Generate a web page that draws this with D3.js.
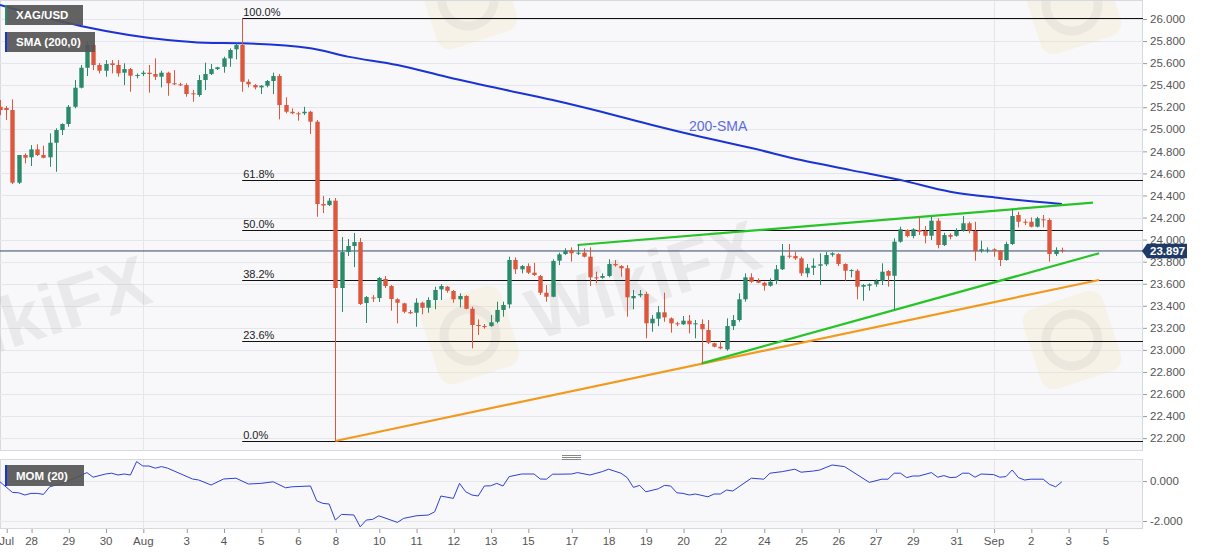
<!DOCTYPE html>
<html><head><meta charset="utf-8">
<script src="https://cdn.jsdelivr.net/npm/d3@7"></script>
<style>
body{margin:0;background:#fff;}
svg{display:block;font-family:"Liberation Sans",Arial,sans-serif;}
</style></head>
<body><svg id="c" width="1207" height="555"></svg>
<script>
// ---------- DATA ----------
const openP=[25.204,25.193,25.175,24.516,24.767,24.746,24.818,24.767,24.746,24.878,
24.993,25.048,25.204,25.377,25.558,25.764,25.583,25.531,25.598,25.583,
25.513,25.546,25.483,25.501,25.513,25.501,25.477,25.513,25.417,25.408,
25.401,25.326,25.311,25.447,25.501,25.546,25.567,25.643,25.725,25.764,
25.431,25.401,25.380,25.395,25.438,25.483,25.220,25.159,25.145,25.145,
25.159,25.069,24.323,24.313,24.353,23.561,23.887,23.942,23.978,23.425,
23.475,23.470,23.643,23.579,23.459,23.422,23.343,23.337,23.428,23.382,
23.452,23.549,23.573,23.534,23.459,23.489,23.373,23.226,23.216,23.216,
23.255,23.362,23.413,23.815,23.731,23.760,23.700,23.670,23.518,23.482,
23.809,23.869,23.906,23.876,23.881,23.845,23.658,23.654,23.670,23.779,
23.760,23.740,23.468,23.495,23.507,23.241,23.283,23.341,23.286,23.241,
23.232,23.265,23.232,23.235,23.180,23.060,23.029,23.005,23.216,23.271,
23.459,23.658,23.627,23.609,23.582,23.627,23.731,23.854,23.851,23.830,
23.694,23.745,23.763,23.776,23.863,23.869,23.779,23.715,23.718,23.573,
23.582,23.595,23.627,23.715,23.672,23.981,24.087,24.032,24.087,24.078,
24.035,24.171,23.951,24.041,24.035,24.081,24.148,24.078,23.896,23.906,
23.912,23.899,23.815,23.960,24.223,24.162,24.162,24.117,24.184,24.178,
23.869,23.906];
const highP=[25.265,25.211,25.271,24.767,24.782,24.857,24.864,24.851,24.963,25.009,
25.054,25.220,25.447,25.583,25.794,25.779,25.601,25.628,25.628,25.628,
25.598,25.555,25.507,25.531,25.583,25.643,25.531,25.522,25.537,25.422,
25.417,25.356,25.492,25.604,25.592,25.567,25.658,25.734,25.779,26.006,
25.453,25.410,25.401,25.447,25.513,25.501,25.290,25.190,25.159,25.204,
25.168,25.084,24.395,24.377,24.377,24.023,24.005,24.060,24.014,23.488,
23.497,23.661,23.670,23.588,23.468,23.428,23.362,23.468,23.437,23.477,
23.573,23.597,23.579,23.543,23.513,23.495,23.391,23.277,23.235,23.316,
23.437,23.437,23.845,23.839,23.769,23.785,23.790,23.679,23.588,23.821,
23.881,23.921,23.930,23.960,23.921,23.930,23.709,23.694,23.821,23.815,
23.769,23.769,23.543,23.543,23.527,23.316,23.398,23.518,23.295,23.255,
23.307,23.316,23.271,23.277,23.271,23.065,23.083,23.286,23.316,23.513,
23.694,23.694,23.649,23.618,23.649,23.769,23.960,23.960,23.890,23.845,
23.779,23.830,23.876,23.890,23.885,23.876,23.785,23.731,23.731,23.597,
23.604,23.640,23.785,23.724,24.012,24.117,24.093,24.102,24.214,24.123,
24.207,24.193,24.062,24.057,24.102,24.214,24.162,24.162,23.990,23.930,
23.921,23.906,23.981,24.274,24.253,24.184,24.202,24.207,24.223,24.193,
23.930,23.927];
const lowP=[25.129,25.084,24.504,24.504,24.691,24.667,24.758,24.737,24.660,24.615,
24.948,25.023,25.190,25.371,25.483,25.537,25.507,25.477,25.507,25.477,
25.401,25.341,25.462,25.483,25.332,25.447,25.380,25.304,25.401,25.392,
25.295,25.250,25.295,25.356,25.492,25.537,25.513,25.567,25.634,25.341,
25.380,25.362,25.320,25.380,25.320,25.090,25.145,25.138,25.078,25.129,
24.957,24.207,24.241,24.304,22.174,23.343,23.851,23.751,23.407,23.244,
23.434,23.434,23.561,23.355,23.241,23.332,23.325,23.210,23.323,23.337,
23.368,23.452,23.518,23.428,23.386,23.368,23.014,23.135,23.192,23.210,
23.241,23.301,23.377,23.688,23.694,23.688,23.670,23.498,23.437,23.477,
23.769,23.860,23.800,23.860,23.839,23.579,23.604,23.645,23.658,23.754,
23.663,23.301,23.368,23.477,23.105,23.165,23.216,23.255,23.156,23.216,
23.226,23.150,23.105,22.878,23.053,23.023,23.005,22.992,23.180,23.255,
23.437,23.609,23.604,23.537,23.573,23.597,23.724,23.830,23.815,23.670,
23.658,23.679,23.588,23.760,23.845,23.760,23.627,23.658,23.459,23.446,
23.537,23.573,23.588,23.573,23.362,23.972,24.021,24.012,24.041,23.966,
23.996,23.921,23.942,24.002,24.026,24.072,24.057,23.808,23.881,23.881,
23.845,23.760,23.808,23.951,24.111,24.132,24.111,24.111,24.111,23.800,
23.851,23.881];
const closeP=[25.175,25.175,24.516,24.767,24.742,24.818,24.767,24.742,24.878,24.993,
25.048,25.204,25.377,25.558,25.764,25.583,25.531,25.592,25.583,25.507,
25.546,25.486,25.492,25.513,25.501,25.477,25.513,25.417,25.408,25.399,
25.320,25.317,25.447,25.501,25.546,25.562,25.643,25.719,25.764,25.431,
25.408,25.380,25.395,25.438,25.483,25.220,25.159,25.145,25.136,25.159,
25.069,24.323,24.309,24.353,23.561,23.887,23.942,23.978,23.416,23.479,
23.466,23.652,23.579,23.461,23.428,23.346,23.332,23.428,23.382,23.452,
23.543,23.579,23.536,23.459,23.489,23.373,23.226,23.216,23.210,23.250,
23.362,23.407,23.815,23.731,23.760,23.700,23.679,23.518,23.482,23.806,
23.866,23.899,23.876,23.881,23.845,23.658,23.649,23.670,23.779,23.767,
23.740,23.477,23.489,23.507,23.241,23.283,23.341,23.295,23.241,23.232,
23.265,23.232,23.241,23.187,23.065,23.029,23.014,23.216,23.271,23.459,
23.658,23.618,23.609,23.582,23.618,23.731,23.854,23.845,23.830,23.694,
23.745,23.763,23.776,23.860,23.876,23.779,23.718,23.724,23.573,23.588,
23.595,23.627,23.709,23.672,23.981,24.093,24.032,24.093,24.071,24.035,
24.171,23.951,24.041,24.026,24.081,24.148,24.081,23.896,23.912,23.909,
23.899,23.815,23.960,24.214,24.162,24.153,24.117,24.193,24.178,23.869,
23.906,23.897];

// 200-period SMA, read at sample candles
const smaIdx=[0,13,27,33,39,50,56,64,72,80,89,97,105,113,121,129,137,145,153,161,171];
const smaVal=[26.127,25.937,25.810,25.785,25.780,25.735,25.659,25.583,25.474,25.374,25.266,25.157,25.039,24.930,24.830,24.721,24.630,24.540,24.434,24.377,24.323];

// Momentum (20)
const momIdx=[0,2,3,4,5,6,7,8,10,12,14,15,17,18,19,20,21,22,23,24,25,26,27,31,32,34,36,38,40,42,44,46,47,50,51,52,53,54,55,57,58,59,60,61,64,65,67,69,70,71,73,74,75,76,77,78,79,80,81,82,84,86,87,88,89,90,92,93,95,97,98,100,101,102,103,104,106,107,108,109,110,111,112,114,115,116,117,118,121,123,124,126,128,129,131,132,134,136,140,142,143,144,145,146,147,148,150,151,152,153,154,155,156,157,158,160,161,162,163,164,165,166,168,169,170,171];
const momVal=[-0.04,-0.57,-0.59,-0.70,-0.62,-0.62,-0.67,-0.29,-0.12,0.14,0.42,0.19,0.35,0.39,0.30,0.35,0.30,0.97,0.75,0.75,0.64,0.72,0.64,0.10,0.05,-0.20,0.10,0.14,-0.15,-0.12,-0.04,-0.34,-0.29,-0.25,-0.99,-1.12,-1.15,-1.95,-1.67,-1.70,-2.29,-1.95,-1.92,-1.74,-2.07,-1.87,-1.74,-1.70,-1.54,-0.75,-0.87,-0.12,-0.54,-0.70,-0.75,-0.25,-0.24,-0.12,-0.25,0.22,0.35,0.35,0.10,0.09,0.34,0.34,0.35,0.42,0.30,0.47,0.59,0.39,0.17,-0.32,-0.22,-0.54,-0.39,-0.22,-0.25,-0.59,-0.62,-0.70,-0.65,-0.79,-0.65,-0.65,-0.45,-0.50,0.14,0.09,0.39,0.47,0.59,0.44,0.50,0.55,0.80,0.72,-0.07,0.09,0.09,0.39,0.39,0.17,0.25,0.25,0.42,0.19,0.27,0.17,0.19,0.39,0.39,0.19,0.35,0.32,0.19,0.22,0.55,0.17,0.05,0.09,0.09,-0.17,-0.29,-0.04];

// Fibonacci retracement (swing high candle 39, swing low candle 54)
const fibHigh=26.006, fibLow=22.174, fibStartIdx=39;
const fibLevels=[1.0,0.618,0.5,0.382,0.236,0.0];
const fibLabels=["100.0%","61.8%","50.0%","38.2%","23.6%","0.0%"];

// Trend lines [idx, price]
const upperGreen=[[93,23.951],[176,24.335]];
const lowerGreen=[[113,22.878],[177,23.876]];
const orangeLine=[[54,22.174],[177,23.634]];

const lastPrice=23.897;
const priceTicks=d3.range(0,20).map(k=>+(22.2+0.2*k).toFixed(1));
const momTicks=[0,-2];
const dayTickIdx=[1,5,11,17,23,30,36,42,48,54,61,67,73,79,85,92,98,104,110,116,123,129,135,141,147,154,160,166,172,178];
const dayTickLbl=["Jul","28","29","30","Aug","3","4","5","6","8","10","11","12","13","15","17","18","19","20","22","24","25","26","27","29","31","Sep","2","3","5"];
const monthGridIdx=[23,160];

// ---------- LAYOUT ----------
const svg=d3.select("#c");
const PL=0, PR=1143, MT=1, MB=451, OT=460, OB=529;
const x=d3.scaleLinear().domain([0,184]).range([0,1142.6]);
const y=d3.scaleLinear().domain([22,26]).range([460.2,19]);
const ym=d3.scaleLinear().domain([-2,0]).range([521,481]);
const GREEN="#2b8a6c", RED="#dc573d";

const defs=svg.append("defs");
defs.append("clipPath").attr("id","cm").append("rect").attr("x",PL).attr("y",MT).attr("width",PR-PL).attr("height",MB-MT);
defs.append("clipPath").attr("id","co").append("rect").attr("x",PL).attr("y",OT).attr("width",PR-PL).attr("height",OB-OT);

// panel backgrounds
svg.append("rect").attr("x",PL+0.5).attr("y",MT-0.5).attr("width",PR-PL-1).attr("height",MB-MT).attr("fill","#f8f8fa").attr("stroke","#d6d9e0");
svg.append("rect").attr("x",PL+0.5).attr("y",OT-0.5).attr("width",PR-PL-1).attr("height",OB-OT).attr("fill","#f8f8fa").attr("stroke","#d6d9e0");

const gm=svg.append("g").attr("clip-path","url(#cm)");
const go=svg.append("g").attr("clip-path","url(#co)");

// grid
gm.selectAll(".hg").data(priceTicks).join("line").attr("x1",PL).attr("x2",PR)
  .attr("y1",d=>Math.round(y(d))+0.5).attr("y2",d=>Math.round(y(d))+0.5).attr("stroke","#e4e6eb");
[gm,go].forEach(g=>g.selectAll(".vg").data(monthGridIdx).join("line")
  .attr("x1",d=>Math.round(x(d))+0.5).attr("x2",d=>Math.round(x(d))+0.5).attr("y1",0).attr("y2",555).attr("stroke","#e4e6eb"));
go.selectAll(".mg").data(momTicks).join("line").attr("x1",PL).attr("x2",PR)
  .attr("y1",d=>Math.round(ym(d))+0.5).attr("y2",d=>Math.round(ym(d))+0.5).attr("stroke","#e4e6eb");

// watermarks
function wm(g,cx,cy,withText){
  const w=g.append("g").attr("transform",`translate(${cx},${cy}) rotate(-18)`);
  w.append("rect").attr("x",-42).attr("y",-42).attr("width",84).attr("height",84).attr("rx",14)
    .attr("fill","#f7dca0").attr("opacity",0.2);
  w.append("circle").attr("r",26).attr("fill","none").attr("stroke","#a0a0a0").attr("stroke-width",9).attr("opacity",0.12);
  if(withText) w.append("text").attr("x",62).attr("y",26).text("WikiFX").attr("font-size",72).attr("font-weight","bold")
    .attr("fill","#9a9a9a").attr("opacity",0.15);
}
wm(gm,470,335,true); wm(gm,1072,340,false); wm(gm,-140,370,true); wm(gm,468,0,false); wm(gm,1072,5,false);

// fib
const fibG=gm.append("g");
fibLevels.forEach((lv,k)=>{
  const p=fibLow+(fibHigh-fibLow)*lv, yy=Math.round(y(p))+0.5;
  fibG.append("line").attr("x1",x(fibStartIdx)).attr("x2",PR).attr("y1",yy).attr("y2",yy).attr("stroke","#111").attr("stroke-width",1);
  fibG.append("text").attr("x",x(fibStartIdx)+1).attr("y",yy-3).text(fibLabels[k]).attr("font-size",11).attr("fill","#222");
});

// last price line
gm.append("line").attr("x1",PL).attr("x2",PR).attr("y1",y(lastPrice)).attr("y2",y(lastPrice)).attr("stroke","#34476e").attr("stroke-width",1);

// SMA
gm.append("path").datum(smaIdx.map((d,i)=>[d,smaVal[i]]))
  .attr("d",d3.line().x(d=>x(d[0])).y(d=>y(d[1])).curve(d3.curveMonotoneX))
  .attr("fill","none").attr("stroke","#1a33d4").attr("stroke-width",2);

// trendlines
const tl=d3.line().x(d=>x(d[0])).y(d=>y(d[1]));
gm.append("path").datum(orangeLine).attr("d",tl).attr("stroke","#f39a1e").attr("stroke-width",2.2).attr("fill","none");
gm.append("path").datum(upperGreen).attr("d",tl).attr("stroke","#27c427").attr("stroke-width",2.2).attr("fill","none");
gm.append("path").datum(lowerGreen).attr("d",tl).attr("stroke","#27c427").attr("stroke-width",2.2).attr("fill","none");

// candles
const idx=d3.range(openP.length);
const bw=4.4;
const cg=gm.append("g");
cg.selectAll(".wk").data(idx).join("line")
  .attr("x1",i=>Math.round(x(i))+0.5).attr("x2",i=>Math.round(x(i))+0.5)
  .attr("y1",i=>y(highP[i])).attr("y2",i=>y(lowP[i]))
  .attr("stroke",i=>closeP[i]>=openP[i]?GREEN:RED).attr("stroke-width",1);
cg.selectAll(".bd").data(idx).join("rect")
  .attr("x",i=>Math.round(x(i))+0.5-bw/2).attr("width",bw)
  .attr("y",i=>y(Math.max(openP[i],closeP[i])))
  .attr("height",i=>Math.max(1,Math.abs(y(openP[i])-y(closeP[i]))))
  .attr("fill",i=>closeP[i]>=openP[i]?GREEN:RED);

// SMA label
gm.append("text").attr("x",689).attr("y",131).text("200-SMA").attr("font-size",14).attr("fill","#5b6be0");

// MOM line
go.append("path").datum(momIdx.map((d,i)=>[d,momVal[i]]))
  .attr("d",d3.line().x(d=>x(d[0])).y(d=>ym(d[1])))
  .attr("fill","none").attr("stroke","#2c40d6").attr("stroke-width",1);

// legends
function legend(lx,ly,w,h,txt,stripe){
  const g=svg.append("g");
  g.append("rect").attr("x",lx).attr("y",ly).attr("width",w).attr("height",h).attr("fill","#555").attr("opacity",0.92);
  g.append("rect").attr("x",lx).attr("y",ly).attr("width",2).attr("height",h).attr("fill",stripe);
  g.append("text").attr("x",lx+11).attr("y",ly+h/2+4).text(txt).attr("font-size",11.5).attr("font-weight","bold").attr("fill","#fff");
}
legend(5,5,78,20,"XAG/USD","#2b8a6c");
legend(5,32,90,20,"SMA (200,0)","#1a33d4");
legend(5,465,79,21,"MOM (20)","#1a33d4");

// separator handle
[455,457,459].forEach(yy=>svg.append("line").attr("x1",562).attr("x2",581).attr("y1",yy+0.5).attr("y2",yy+0.5).attr("stroke","#888"));

// axes
function styleAxis(g){
  g.select(".domain").remove();
  g.selectAll("text").attr("fill","#555").style("font-size","11.5px").style("font-family","'Liberation Sans',Arial,sans-serif");
  g.selectAll("line").attr("stroke","#9a9a9a");
}
const ay=svg.append("g").attr("transform",`translate(${PR},0)`)
  .call(d3.axisRight(y).tickValues(priceTicks).tickFormat(d=>d.toFixed(3)).tickSize(4).tickPadding(3));
styleAxis(ay);
const aym=svg.append("g").attr("transform",`translate(${PR},0)`)
  .call(d3.axisRight(ym).tickValues(momTicks).tickFormat(d=>d.toFixed(3)).tickSize(4).tickPadding(3));
styleAxis(aym);
const ax=svg.append("g").attr("transform",`translate(0,${OB})`)
  .call(d3.axisBottom(x).tickValues(dayTickIdx).tickFormat((d,i)=>dayTickLbl[i]).tickSize(4).tickPadding(4));
styleAxis(ax);
ax.selectAll(".tick line").attr("transform","translate(0.5,0)");

// last price tag
const ly=y(lastPrice);
svg.append("path").attr("d",`M${PR-1},${ly} L${PR+4},${ly-7.2} L${PR+44},${ly-7.2} L${PR+44},${ly+7.2} L${PR+4},${ly+7.2} Z`).attr("fill","#1f3a66");
svg.append("text").attr("x",PR+7).attr("y",ly+4).text(lastPrice.toFixed(3)).attr("font-size",11.5).attr("font-weight","bold").attr("fill","#fff");
</script>
</body></html>
